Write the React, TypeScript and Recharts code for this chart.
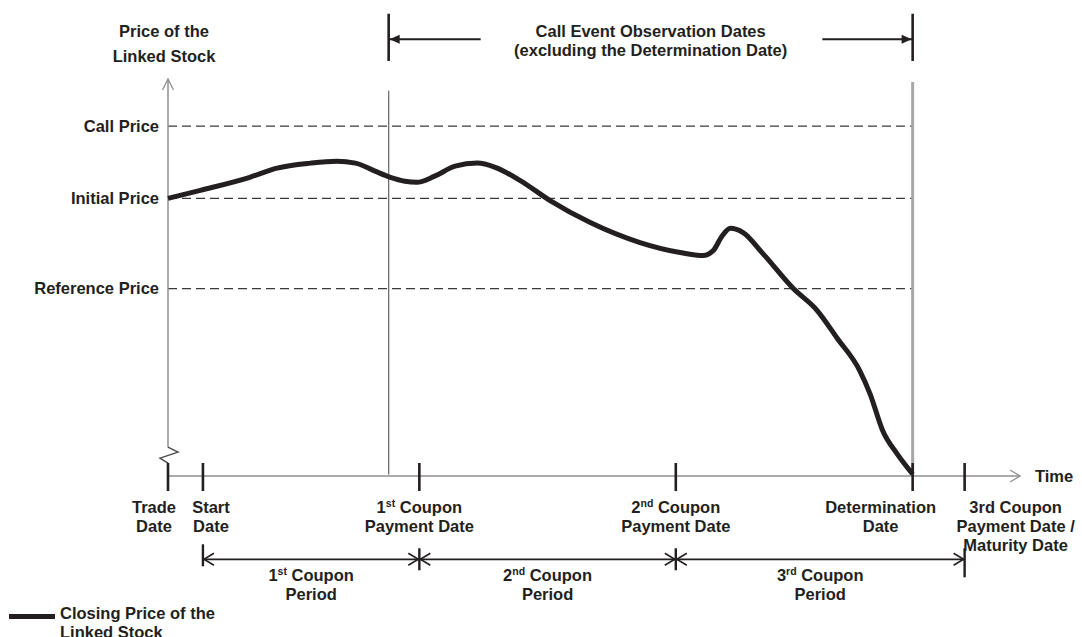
import React from "react"
import { LineChart, Line, XAxis, YAxis, ReferenceLine, ReferenceDot, Legend } from "recharts"

// closing price of the linked stock, time on a 0-100 scale, initial price = 100
const closeTime = [0, 3.8, 9.6, 12.8, 16.7, 19.8, 22.0, 24.3, 26.1, 27.8, 29.2, 31.3, 33.7, 36.3, 38.4, 41.3, 44.8, 49.5, 55.4, 60.1, 62.8, 64.0, 65.0, 66.0, 67.5, 69.8, 73.4, 76.2, 78.5, 81.2, 82.4, 83.9, 85.6, 87.4]
const closePrice = [100, 102.9, 107.6, 110.9, 112.7, 113.4, 112.7, 109.8, 107.6, 106.2, 105.8, 108.0, 111.6, 112.7, 111.2, 106.5, 99.3, 91.4, 84.1, 80.5, 79.4, 81.2, 86.3, 89.2, 87.7, 80.2, 67.5, 59.6, 49.8, 37.9, 29.6, 16.2, 7.9, 0.7]

// price levels
const levelNames = ["Call Price", "Initial Price", "Reference Price"]
const levelValues = [126, 100, 67.5]

// dates on the time axis
const dateTicks = [0, 4.1, 29.5, 59.6, 87.4, 93.5]
const dateLabels = [
  ["Trade", "Date"],
  ["Start", "Date"],
  ["1^st Coupon", "Payment Date"],
  ["2^nd Coupon", "Payment Date"],
  ["Determination", "Date"],
  ["3rd Coupon", "Payment Date /", "Maturity Date"],
]
const dateLabelShift = [-14, 8, 0, 0, -32, 51] // px, label centre vs tick

// coupon periods
const periodBounds = [4.1, 29.5, 59.6, 93.5]
const periodLabels = [
  ["1^st Coupon", "Period"],
  ["2^nd Coupon", "Period"],
  ["3^rd Coupon", "Period"],
]
const periodBarExtent = [[-15, 7], [-11, 11], [-11, 11], [-11, 18]] // px

// call event observation window
const callWindow = [25.9, 87.4]
const callGap = [36.7, 76.8]
const callLabel = ["Call Event Observation Dates", "(excluding the Determination Date)"]

const priceAxisTitle = ["Price of the", "Linked Stock"]
const timeAxisTitle = "Time"
const seriesName = "Closing Price of the Linked Stock"
const legendLines = ["Closing Price of the", "Linked Stock"]

const chartData = closeTime.map((t, i) => ({ t, price: closePrice[i] }))

const FONT = "'Liberation Sans', Arial, Helvetica, sans-serif"
const INK = "#231f20"
const AXIS = "#8f8f8f"
const textStyle = { fill: INK, fontSize: 16.5, fontWeight: 700, fontFamily: FONT }

// rows (in price units) used for the annotations outside the plot
const CALL_ROW = 157.3
const CALL_BAR = [149.5, 166.5]
const PERIOD_ROW = -30
const AXIS_BREAK = 10.4

const SUP = 6

// one <text>, several lines; "1^st Coupon" -> 1 + superscript st + Coupon
function Lines({ x, y, lines, gap = 19, anchor = "middle" }: any) {
  const spans: any[] = []
  lines.forEach((l: string, li: number) => {
    const parts = l.split(/\^([a-z]+)/) // odd indexes are superscripts
    parts.forEach((p, k) => {
      const isSup = k % 2 === 1
      let dy = k === 0 ? (li === 0 ? 0 : gap) : 0
      if (isSup) dy -= SUP
      if (k > 0 && !isSup) dy += SUP
      spans.push(
        <tspan key={li + "-" + k} x={k === 0 ? x : undefined} dy={dy} fontSize={isSup ? 10.5 : undefined}>
          {p}
        </tspan>
      )
    })
  })
  return (
    <text x={x} y={y} textAnchor={anchor} {...textStyle}>
      {spans}
    </text>
  )
}

function DateTick(props: any) {
  const { x, y, payload } = props
  const i = dateTicks.indexOf(payload.value)
  if (i < 0) return null
  return (
    <g>
      <line x1={x} x2={x} y1={y - 13} y2={y + 15} stroke={INK} strokeWidth={2.6} />
      <Lines x={x + dateLabelShift[i]} y={y + 36.5} lines={dateLabels[i]} />
    </g>
  )
}

// small helper: draw something anchored at a data point
const mark = (key: string, x: number, y: number, draw: (cx: number, cy: number) => any) => (
  <ReferenceDot key={key} x={x} y={y} r={0} ifOverflow="visible" shape={(p: any) => draw(p.cx, p.cy)} />
)

function LegendContent() {
  return (
    <div style={{ display: "flex", fontFamily: FONT, fontWeight: 700, fontSize: 16.5, lineHeight: "19px", color: INK }}>
      <div style={{ width: 46, height: 5, background: INK, marginTop: 9.5, marginRight: 5 }} />
      <div>
        {legendLines.map((l) => (
          <div key={l}>{l}</div>
        ))}
      </div>
    </div>
  )
}

export default function App() {
  const last = periodBounds.length - 1
  return (
    <div style={{ width: 1082, height: 637, background: "#fff", overflow: "hidden" }}>
      <style>{"body{margin:0}"}</style>
      <LineChart width={1082} height={637} data={chartData} margin={{ top: 79, right: 62, bottom: 131, left: 18 }}>
        <XAxis
          dataKey="t"
          type="number"
          domain={[0, 100]}
          ticks={dateTicks}
          interval={0}
          height={30}
          tickSize={0}
          tickMargin={0}
          tickLine={false}
          axisLine={{ stroke: AXIS, strokeWidth: 1.5 }}
          tick={(p: any) => <DateTick {...p} />}
        />
        <YAxis
          type="number"
          domain={[0, 143]}
          ticks={levelValues}
          interval={0}
          width={150}
          tickSize={0}
          tickMargin={9}
          axisLine={false}
          tickLine={false}
          tick={textStyle}
          tickFormatter={(v: number) => levelNames[levelValues.indexOf(v)]}
        />

        {/* price levels */}
        {levelValues.map((v) => (
          <ReferenceLine
            key={"lv" + v}
            segment={[{ x: 0, y: v }, { x: callWindow[1], y: v }]}
            stroke="#3a3a3a"
            strokeWidth={1.3}
            strokeDasharray="9 5"
            ifOverflow="visible"
          />
        ))}

        {/* observation window verticals */}
        <ReferenceLine segment={[{ x: callWindow[0], y: 0.5 }, { x: callWindow[0], y: 138.8 }]} stroke="#6e6e6e" strokeWidth={1.3} ifOverflow="visible" />
        <ReferenceLine segment={[{ x: callWindow[1], y: 0 }, { x: callWindow[1], y: 141.9 }]} stroke="#a8a8a8" strokeWidth={3} ifOverflow="visible" />

        {/* price axis with break */}
        <ReferenceLine segment={[{ x: 0, y: AXIS_BREAK }, { x: 0, y: 143 }]} stroke={AXIS} strokeWidth={1.5} ifOverflow="visible" />
        {mark("brk", 0, AXIS_BREAK, (cx, cy) => (
          <polyline points={`${cx},${cy} ${cx + 10},${cy + 5} ${cx - 8},${cy + 11} ${cx},${cy + 16}`} fill="none" stroke="#4a4a4a" strokeWidth={1.4} />
        ))}
        {mark("yarrow", 0, 143, (cx, cy) => (
          <g>
            <polyline points={`${cx - 5.5},${cy + 11} ${cx},${cy} ${cx + 5.5},${cy + 11}`} fill="none" stroke={AXIS} strokeWidth={1.3} />
            <Lines x={cx - 4} y={cy - 42.3} lines={priceAxisTitle} gap={25.3} />
          </g>
        ))}
        {mark("xarrow", 100, 0, (cx, cy) => (
          <g>
            <polyline points={`${cx - 10},${cy - 6} ${cx},${cy} ${cx - 10},${cy + 6}`} fill="none" stroke={AXIS} strokeWidth={1.3} />
            <Lines x={cx + 15} y={cy + 5.5} lines={[timeAxisTitle]} anchor="start" />
          </g>
        ))}

        {/* call event observation dates */}
        {callWindow.map((x) => (
          <ReferenceLine key={"cb" + x} segment={[{ x, y: CALL_BAR[0] }, { x, y: CALL_BAR[1] }]} stroke={INK} strokeWidth={2.6} ifOverflow="visible" />
        ))}
        <ReferenceLine segment={[{ x: callWindow[0], y: CALL_ROW }, { x: callGap[0], y: CALL_ROW }]} stroke={INK} strokeWidth={2} ifOverflow="visible" />
        <ReferenceLine segment={[{ x: callGap[1], y: CALL_ROW }, { x: callWindow[1], y: CALL_ROW }]} stroke={INK} strokeWidth={2} ifOverflow="visible" />
        {mark("cal", callWindow[0], CALL_ROW, (cx, cy) => (
          <polygon points={`${cx + 1},${cy} ${cx + 11},${cy - 4.5} ${cx + 11},${cy + 4.5}`} fill={INK} />
        ))}
        {mark("car", callWindow[1], CALL_ROW, (cx, cy) => (
          <polygon points={`${cx - 1},${cy} ${cx - 11},${cy - 4.5} ${cx - 11},${cy + 4.5}`} fill={INK} />
        ))}
        {mark("ctxt", (callWindow[0] + callWindow[1]) / 2, CALL_ROW, (cx, cy) => (
          <Lines x={cx} y={cy - 2.3} lines={callLabel} gap={18.5} />
        ))}

        {/* coupon periods */}
        {periodBounds.slice(0, last).map((x, i) => (
          <ReferenceLine
            key={"pl" + i}
            segment={[{ x, y: PERIOD_ROW }, { x: periodBounds[i + 1], y: PERIOD_ROW }]}
            stroke={INK}
            strokeWidth={1.8}
            ifOverflow="visible"
          />
        ))}
        {periodBounds.map((x, j) =>
          mark("pb" + j, x, PERIOD_ROW, (cx, cy) => (
            <g fill="none" stroke={INK}>
              <line x1={cx} x2={cx} y1={cy + periodBarExtent[j][0]} y2={cy + periodBarExtent[j][1]} strokeWidth={2.4} />
              {j < last && <polyline points={`${cx + 11},${cy - 6} ${cx + 1},${cy} ${cx + 11},${cy + 6}`} strokeWidth={1.6} />}
              {j > 0 && <polyline points={`${cx - 11},${cy - 6} ${cx - 1},${cy} ${cx - 11},${cy + 6}`} strokeWidth={1.6} />}
            </g>
          ))
        )}
        {periodLabels.map((lines, i) =>
          mark("pt" + i, (periodBounds[i] + periodBounds[i + 1]) / 2, PERIOD_ROW, (cx, cy) => (
            <Lines x={cx} y={cy + 22.2} lines={lines} gap={18.5} />
          ))
        )}

        <Line
          dataKey="price"
          name={seriesName}
          type="monotone"
          stroke={INK}
          strokeWidth={5}
          strokeLinejoin="round"
          dot={false}
          activeDot={false}
          isAnimationActive={false}
        />
        <Legend
          layout="horizontal"
          verticalAlign="middle"
          align="center"
          wrapperStyle={{ left: 9, top: 604, width: 320 }}
          content={() => <LegendContent />}
        />
      </LineChart>
    </div>
  )
}
